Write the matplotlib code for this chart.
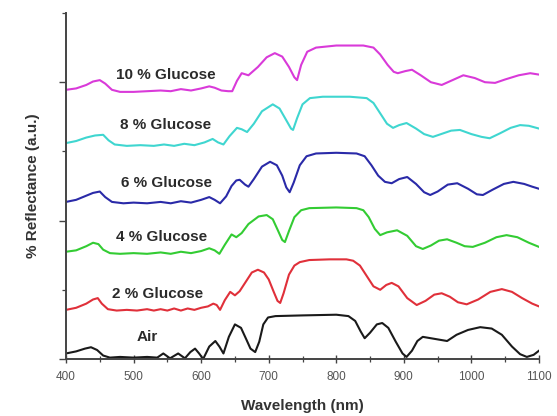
import matplotlib
matplotlib.use("Agg")
import matplotlib.pyplot as plt
from matplotlib.ticker import MultipleLocator, NullFormatter

# ---- data (wavelength nm, reflectance a.u.) ----
air_wl = [400, 415, 428, 437, 446, 455, 465, 480, 500, 520, 535, 544, 554, 566, 576, 584, 591, 597,
          603, 612, 621, 627, 633, 641, 650, 659, 667, 673, 680, 686, 692, 699, 710, 750, 800, 818,
          828, 836, 842, 850, 860, 868, 877, 888, 898, 904, 912, 920, 928, 940, 952, 964, 978, 995,
          1013, 1030, 1045, 1060, 1072, 1082, 1092, 1100]
air_r = [0.08, 0.11, 0.15, 0.17, 0.13, 0.05, 0.02, 0.03, 0.02, 0.03, 0.02, 0.08, 0.01, 0.08, 0.01,
         0.10, 0.15, 0.08, 0.0, 0.18, 0.26, 0.18, 0.08, 0.32, 0.50, 0.45, 0.28, 0.15, 0.10, 0.25, 0.50,
         0.60, 0.62, 0.63, 0.64, 0.62, 0.55, 0.40, 0.30, 0.38, 0.50, 0.52, 0.45, 0.25, 0.08, 0.03,
         0.12, 0.26, 0.32, 0.30, 0.28, 0.26, 0.35, 0.42, 0.46, 0.44, 0.35, 0.18, 0.07, 0.03, 0.06, 0.12]

g2_wl = [400, 415, 430, 440, 447, 453, 462, 475, 490, 505, 520, 530, 540, 550, 560, 570, 580, 590,
         600, 610, 618, 623, 628, 635, 643, 650, 657, 665, 675, 684, 693, 700, 707, 713, 717, 722,
         730, 738, 746, 760, 790, 815, 825, 835, 845, 855, 865, 874, 882, 892, 905, 919, 932, 945,
         956, 968, 980, 993, 1010, 1028, 1045, 1060, 1075, 1090, 1100]
g2_r = [0.71, 0.74, 0.80, 0.86, 0.88, 0.80, 0.72, 0.70, 0.71, 0.70, 0.72, 0.70, 0.72, 0.70, 0.73,
        0.70, 0.73, 0.71, 0.74, 0.76, 0.80, 0.78, 0.71, 0.85, 0.97, 0.92, 0.98, 1.10, 1.25, 1.29,
        1.25, 1.15, 0.98, 0.84, 0.81, 0.95, 1.22, 1.35, 1.40, 1.43, 1.44, 1.44, 1.42, 1.35, 1.20,
        1.05, 1.00, 1.07, 1.10, 1.05, 0.88, 0.78, 0.84, 0.93, 0.95, 0.90, 0.82, 0.79, 0.86, 0.97,
        1.01, 0.97, 0.88, 0.80, 0.76]

g4_wl = [400, 415, 430, 440, 448, 455, 465, 480, 500, 520, 540, 555, 570, 585, 600, 612, 620, 627,
         635, 645, 652, 660, 670, 685, 697, 706, 714, 720, 724, 730, 738, 748, 760, 800, 830, 840,
         848, 857, 865, 875, 890, 905, 918, 928, 940, 952, 964, 978, 990, 1002, 1020, 1037, 1052,
         1068, 1085, 1100]
g4_r = [1.55, 1.57, 1.63, 1.68, 1.66, 1.58, 1.53, 1.52, 1.53, 1.52, 1.54, 1.52, 1.55, 1.53, 1.56,
        1.60, 1.57, 1.52, 1.65, 1.80, 1.76, 1.82, 1.95, 2.06, 2.08, 2.02, 1.85, 1.72, 1.69, 1.85,
        2.05, 2.15, 2.18, 2.19, 2.18, 2.15, 2.05, 1.88, 1.79, 1.83, 1.86, 1.78, 1.63, 1.59, 1.64,
        1.71, 1.73, 1.68, 1.63, 1.62, 1.68, 1.76, 1.79, 1.76, 1.68, 1.62]

g6_wl = [400, 415, 430, 440, 450, 458, 468, 485, 500, 520, 540, 555, 570, 585, 600, 612, 620, 628,
         637, 645, 652, 657, 665, 670, 678, 690, 702, 712, 720, 726, 731, 737, 746, 756, 770, 800,
         830, 842, 852, 862, 872, 882, 893, 905, 918, 930, 939, 950, 965, 979, 995, 1008, 1017, 1032,
         1048, 1062, 1078, 1090, 1100]
g6_r = [2.27, 2.30, 2.36, 2.40, 2.42, 2.34, 2.27, 2.25, 2.26, 2.25, 2.27, 2.25, 2.28, 2.26, 2.30,
        2.34, 2.30, 2.25, 2.35, 2.50, 2.58, 2.59, 2.52, 2.49, 2.60, 2.78, 2.85, 2.80, 2.65, 2.48,
        2.41, 2.55, 2.80, 2.93, 2.97, 2.98, 2.97, 2.93, 2.80, 2.65, 2.56, 2.54, 2.60, 2.63, 2.53,
        2.41, 2.37, 2.42, 2.52, 2.54, 2.46, 2.38, 2.37, 2.45, 2.53, 2.56, 2.53, 2.49, 2.46]

g8_wl = [400, 415, 430, 443, 455, 463, 472, 490, 510, 530, 545, 560, 575, 590, 605, 617, 625, 633,
         642, 653, 660, 668, 678, 690, 706, 716, 726, 733, 736, 742, 750, 761, 780, 820, 845, 855,
         865, 875, 884, 893, 904, 918, 930, 943, 958, 970, 983, 1000, 1015, 1027, 1042, 1058, 1072,
         1085, 1100]
g8_r = [3.12, 3.15, 3.20, 3.23, 3.24, 3.16, 3.10, 3.08, 3.09, 3.08, 3.10, 3.08, 3.11, 3.09, 3.13,
        3.18, 3.13, 3.10, 3.22, 3.34, 3.32, 3.28, 3.40, 3.58, 3.68, 3.62, 3.45, 3.33, 3.31, 3.48,
        3.68, 3.77, 3.79, 3.79, 3.77, 3.70, 3.55, 3.40, 3.34, 3.38, 3.41, 3.33, 3.25, 3.21, 3.26,
        3.30, 3.31, 3.25, 3.21, 3.19, 3.26, 3.34, 3.38, 3.37, 3.33]

g10_wl = [400, 415, 430, 440, 450, 458, 468, 480, 500, 520, 540, 555, 570, 585, 600, 612, 620, 630,
          640, 646, 653, 660, 670, 684, 697, 709, 720, 730, 738, 742, 748, 757, 770, 800, 840, 855,
          865, 876, 885, 891, 902, 912, 925, 940, 956, 972, 988, 1005, 1020, 1035, 1050, 1070, 1087,
          1100]
g10_r = [3.89, 3.91, 3.96, 4.01, 4.03, 3.98, 3.89, 3.86, 3.86, 3.87, 3.88, 3.87, 3.90, 3.88, 3.91,
         3.94, 3.92, 3.88, 3.87, 3.87, 4.02, 4.13, 4.10, 4.22, 4.36, 4.42, 4.37, 4.22, 4.07, 4.03,
         4.25, 4.44, 4.50, 4.53, 4.53, 4.50, 4.40, 4.25, 4.15, 4.13, 4.16, 4.18, 4.10, 4.00, 3.96,
         4.03, 4.10, 4.06, 4.00, 3.99, 4.04, 4.10, 4.13, 4.11]

labels = ["Air", "2 % Glucose", "4 % Glucose", "6 % Glucose", "8 % Glucose", "10 % Glucose"]
label_wl = [520, 535, 542, 548, 548, 548]
label_r = [0.32, 0.94, 1.76, 2.54, 3.38, 4.10]
xticks = [400, 500, 600, 700, 800, 900, 1000, 1100]

series = [(air_wl, air_r, "#1a1a1a"),
          (g2_wl, g2_r, "#e0303a"),
          (g4_wl, g4_r, "#33cc33"),
          (g6_wl, g6_r, "#2a2aa8"),
          (g8_wl, g8_r, "#3fd6d0"),
          (g10_wl, g10_r, "#d93ad9")]

fig = plt.figure(figsize=(5.57, 4.16), dpi=100)
ax = fig.add_axes([66 / 557, 57 / 416, 473 / 557, 346 / 416])

for (wl, r, c) in series:
    ax.plot(wl, r, color=c, lw=1.5, solid_joinstyle="round")

for t, lx, ly in zip(labels, label_wl, label_r):
    ax.text(lx, ly, t, ha="center", va="center", fontsize=11, fontweight="bold",
            color="#2a2a2a", family="Liberation Sans")

ax.set_xlim(400, 1100)
ax.set_ylim(0, 5)
ax.set_xticks(xticks)
ax.set_xticklabels([str(v) for v in xticks], fontsize=8.5, color="#555555", family="Liberation Sans")
ax.xaxis.set_minor_locator(MultipleLocator(50))
ax.set_yticks([0, 2, 4])
ax.yaxis.set_minor_locator(MultipleLocator(1))
ax.yaxis.set_major_formatter(NullFormatter())
ax.tick_params(axis="x", which="major", direction="inout", length=6, width=1.0, color="#444444", pad=6)
ax.tick_params(axis="x", which="minor", direction="inout", length=4, width=0.9, color="#444444")
ax.tick_params(axis="y", which="major", direction="out", length=5, width=1.0, color="#444444")
ax.tick_params(axis="y", which="minor", direction="out", length=3, width=0.9, color="#444444")
for s in ["top", "right"]:
    ax.spines[s].set_visible(False)
for s in ["left", "bottom"]:
    ax.spines[s].set_color("#444444")
    ax.spines[s].set_linewidth(1.4)

ax.set_xlabel("Wavelength (nm)", fontsize=11, fontweight="bold", color="#333333",
              family="Liberation Sans", labelpad=11)
ax.set_ylabel("% Reflectance (a.u.)", fontsize=11, fontweight="bold", color="#333333",
              family="Liberation Sans", labelpad=10)

fig.savefig("out.png", dpi=100)
